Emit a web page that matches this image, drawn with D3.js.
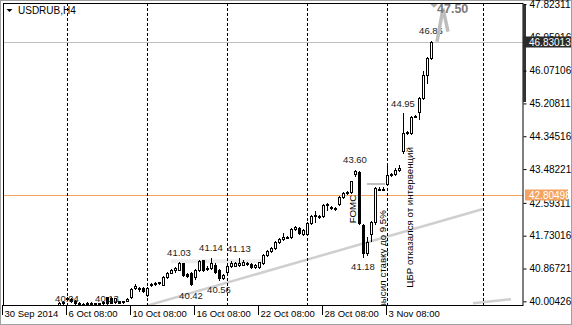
<!DOCTYPE html>
<html><head><meta charset="utf-8">
<script src="https://cdn.jsdelivr.net/npm/d3@7"></script>
<style>body{margin:0;background:#fff}svg{display:block}text{font-family:"Liberation Sans",Arial,sans-serif}</style>
</head><body><svg id="c" width="572" height="325"></svg>
<script>
// ---------------- data ----------------
const symbol = "USDRUB,H4";
const firstBar = -2; // bar index of the first value (0 = 6 Oct 08:00)
const open  = [39.90,39.95,40.08,40.06,40.00,39.96,39.94,39.93,39.96,39.95,39.93,39.95,40.11,40.09,39.99,40.00,39.98,40.02,40.12,40.36,40.32,40.35,40.18,40.43,40.46,40.48,40.44,40.65,40.76,40.82,40.84,41.00,40.72,40.75,40.64,40.83,41.08,40.85,40.88,40.97,40.82,40.62,40.78,40.93,40.94,40.96,40.97,40.99,40.99,40.91,40.90,41.01,41.22,41.33,41.40,41.56,41.64,41.68,41.70,41.90,41.93,41.78,41.78,42.06,42.24,42.24,42.25,42.54,42.49,42.45,42.56,42.75,42.85,42.88,43.35,43.40,42.02,41.27,41.78,42.09,42.97,42.95,43.09,43.33,43.35,43.46,43.95,44.42,44.42,44.86,44.98,45.35,45.96,46.40];
const high  = [39.98,40.02,40.12,40.09,40.03,39.99,39.97,39.98,39.99,39.97,39.97,40.01,40.13,40.11,40.10,40.02,40.01,40.08,40.36,40.46,40.38,40.37,40.38,40.48,40.50,40.52,40.66,40.77,40.86,40.90,41.03,41.02,40.76,40.78,40.85,41.10,41.10,40.92,41.14,41.00,40.85,40.72,40.94,41.06,41.03,41.13,41.08,41.05,41.01,40.98,41.05,41.24,41.35,41.42,41.58,41.66,41.80,41.72,41.92,41.98,41.96,41.90,42.08,42.27,42.38,42.27,42.56,42.60,42.52,42.48,42.77,42.87,42.90,43.18,43.47,43.42,42.05,41.70,42.11,43.00,43.00,43.00,43.55,43.38,43.52,43.58,44.95,44.47,44.88,44.90,45.37,46.05,46.42,46.86];
const low   = [39.85,39.92,40.04,39.98,39.93,39.90,39.88,39.91,39.93,39.90,39.90,39.93,39.94,39.95,39.97,39.95,39.95,40.00,40.10,40.33,40.28,40.26,40.14,40.40,40.44,40.46,40.42,40.63,40.74,40.78,40.82,40.66,40.65,40.42,40.60,40.80,40.80,40.82,40.86,40.76,40.56,40.60,40.74,40.90,40.92,40.93,40.95,40.96,40.88,40.88,40.88,40.99,41.20,41.31,41.38,41.54,41.62,41.66,41.68,41.88,41.78,41.76,41.74,42.04,42.08,42.20,42.23,42.40,42.43,42.40,42.54,42.73,42.83,42.86,43.30,42.04,41.18,41.22,41.60,42.05,42.92,42.93,43.05,43.30,43.33,43.44,43.90,44.40,44.40,44.84,44.80,45.33,45.75,46.38];
const close = [39.95,39.99,40.06,40.00,39.96,39.94,39.92,39.96,39.95,39.93,39.95,39.99,39.97,39.97,40.08,39.97,40.00,40.06,40.33,40.41,40.36,40.28,40.35,40.46,40.48,40.50,40.64,40.75,40.84,40.87,41.01,40.70,40.68,40.45,40.83,41.06,40.83,40.88,41.00,40.78,40.62,40.70,40.92,41.00,41.00,41.00,41.03,41.01,40.90,40.96,41.03,41.22,41.33,41.40,41.56,41.64,41.69,41.70,41.90,41.96,41.80,41.88,42.06,42.25,42.27,42.22,42.54,42.56,42.45,42.42,42.75,42.85,42.88,43.16,43.42,42.06,41.27,41.56,42.09,42.98,42.94,42.97,43.33,43.36,43.45,43.52,44.42,44.45,44.85,44.88,45.35,45.96,46.40,46.83];

const timeTickBars = [-16, 0, 16, 32, 48, 64, 80];
const timeLabels = ["30 Sep 2014", "6 Oct 08:00", "10 Oct 08:00", "16 Oct 08:00", "22 Oct 08:00", "28 Oct 08:00", "3 Nov 08:00"];
const separatorBars = [0, 20, 40, 60, 80, 104];
const priceTicks = [47.82311, 46.95916, 46.07106, 45.20811, 44.34516, 43.48221, 42.59311, 41.73016, 40.86721, 40.00426];
const bidPrice = 46.83013;
const levelPrice = 42.80498;

const zzBars  = [0, 10, 28, 31, 36, 38, 43, 72, 74, 84, 91];
const zzSide  = ["low","low","high","low","high","low","high","high","low","high","high"];
const zzText  = ["40.04","40.13","41.03","40.42","41.14","40.56","41.13","43.60","41.18","44.95","46.86"];

const trendBars = [20, 104], trendPrices = [39.89, 42.43];
const trend2Bars = [101.5, 111], trend2Prices = [39.95, 40.06];
const bandBars = [26, 49], bandPrice = 41.06;
const shortLineBars = [75, 79.5], shortLinePrice = 43.09;

const eventBars = [72.2, 79.7, 86.5];
const eventTexts = ["FOMC", "ЦБР повысил ставку до 9,5%", "ЦБР отказался от интервенций"];
const eventPrices = [42.43, 42.40, 42.21]; // price at text centre / end / centre
const eventAnchors = ["middle", "end", "middle"];

const targetText = "47.50";
const targetBar = 92.5, targetPrice = 47.70;

// ---------------- drawing ----------------
const W = 572, H = 325;
const L = 3, R = 523, T = 3, B = 305;
const svg = d3.select("#c");
const x = d3.scaleLinear().domain([-16, 114]).range([L, R]);
const y = d3.scaleLinear().domain([40.00426, 47.82311]).range([301.3, 4.0]);

const bars = open.map((o, k) => ({i: firstBar + k, o, h: high[k], l: low[k], c: close[k]}));

// outer frame
svg.append("rect").attr("x", 0.5).attr("y", 0.5).attr("width", W - 1).attr("height", H - 1)
  .attr("fill", "#fff").attr("stroke", "#a0a0a0");

svg.append("defs").append("clipPath").attr("id", "plot")
  .append("rect").attr("x", L).attr("y", T).attr("width", R - L).attr("height", B - T);
const g = svg.append("g").attr("clip-path", "url(#plot)");

// light band
g.append("line").attr("x1", x(bandBars[0])).attr("x2", x(bandBars[1]))
  .attr("y1", y(bandPrice)).attr("y2", y(bandPrice))
  .attr("stroke", "#ececec").attr("stroke-width", 4);

// trend lines
g.append("line").attr("x1", x(trendBars[0])).attr("y1", y(trendPrices[0]))
  .attr("x2", x(trendBars[1])).attr("y2", y(trendPrices[1]))
  .attr("stroke", "#cfcfcf").attr("stroke-width", 2.5);
g.append("line").attr("x1", x(trend2Bars[0])).attr("y1", y(trend2Prices[0]))
  .attr("x2", x(trend2Bars[1])).attr("y2", y(trend2Prices[1]))
  .attr("stroke", "#cfcfcf").attr("stroke-width", 2.5);
g.append("line").attr("x1", x(shortLineBars[0])).attr("x2", x(shortLineBars[1]))
  .attr("y1", y(shortLinePrice)).attr("y2", y(shortLinePrice))
  .attr("stroke", "#bdbdbd").attr("stroke-width", 2);

// horizontal price lines
g.append("line").attr("x1", L).attr("x2", R).attr("y1", Math.round(y(bidPrice)) + 0.5).attr("y2", Math.round(y(bidPrice)) + 0.5)
  .attr("stroke", "#c0c0c0");
g.append("line").attr("x1", L).attr("x2", R).attr("y1", Math.round(y(levelPrice)) + 0.5).attr("y2", Math.round(y(levelPrice)) + 0.5)
  .attr("stroke", "#f4a460");

// separators
g.selectAll("line.sep").data(separatorBars).join("line").attr("class", "sep")
  .attr("x1", d => Math.round(x(d)) + 0.5).attr("x2", d => Math.round(x(d)) + 0.5)
  .attr("y1", T).attr("y2", B).attr("stroke", "#000").attr("stroke-dasharray", "3,2");

// candles
const cg = g.selectAll("g.bar").data(bars).join("g").attr("class", "bar");
cg.append("line")
  .attr("x1", d => Math.round(x(d.i)) + 0.5).attr("x2", d => Math.round(x(d.i)) + 0.5)
  .attr("y1", d => Math.round(y(d.h))).attr("y2", d => Math.round(y(d.l)) + 1)
  .attr("stroke", "#000");
cg.append("rect")
  .attr("x", d => Math.round(x(d.i)) - 0.5)
  .attr("y", d => Math.round(y(Math.max(d.o, d.c))) + 0.5)
  .attr("width", 2)
  .attr("height", d => Math.max(1, Math.round(y(Math.min(d.o, d.c))) - Math.round(y(Math.max(d.o, d.c)))))
  .attr("fill", d => d.c >= d.o ? "#fff" : "#000")
  .attr("stroke", "#000");

// event texts (vertical)
g.selectAll("text.ev").data(eventTexts).join("text").attr("class", "ev")
  .attr("transform", (d, k) => `translate(${x(eventBars[k])},${y(eventPrices[k])}) rotate(-90)`)
  .attr("text-anchor", (d, k) => eventAnchors[k])
  .attr("font-size", "9.7px").attr("fill", "#000").text(d => d);

// zigzag labels
g.selectAll("text.zz").data(zzText).join("text").attr("class", "zz")
  .attr("x", (d, k) => x(zzBars[k]))
  .attr("y", (d, k) => {
    const b = bars[zzBars[k] - firstBar];
    if (zzSide[k] === "high") return y(b.h) - 10;
    return Math.min(y(b.l) + 10, 299);
  })
  .attr("dy", "0.35em").attr("text-anchor", "middle")
  .attr("font-size", "9.5px").attr("fill", "#1a1a1a").text(d => d);

// target arrow
const tx = x(targetBar), ty = y(targetPrice);
g.append("path").attr("d", `M${tx - 7},${ty - 5} l8,0 l-4,4 z`).attr("fill", "#aaa");
g.append("path").attr("d", `M${tx},${y(bidPrice)} L${tx + 6},${ty} L${tx + 11},${ty + 23}`)
  .attr("fill", "none").attr("stroke", "#bdbdbd").attr("stroke-width", 3.5);
g.append("text").attr("x", tx).attr("y", ty).attr("dy", "0.35em")
  .attr("font-size", "12.5px").attr("font-weight", "bold").attr("fill", "#7a7a7a").text(targetText);

// title
svg.append("path").attr("d", "M6.5,9 L12.5,9 L9.5,12 Z").attr("fill", "#000");
svg.append("text").attr("x", 18).attr("y", 14).attr("font-size", "10px").attr("fill", "#000").text(symbol);

// plot border
svg.append("rect").attr("x", L + 0.5).attr("y", T + 0.5).attr("width", R - L - 0.5).attr("height", B - T)
  .attr("fill", "none").attr("stroke", "#000");
svg.append("rect").attr("x", R).attr("y", 5).attr("width", 3).attr("height", 97).attr("fill", "#333");

// right axis
const ay = svg.append("g").attr("transform", `translate(${R + 0.5},0)`)
  .call(d3.axisRight(y).tickValues(priceTicks).tickFormat(d3.format(".5f")).tickSize(3).tickPadding(3));
ay.select(".domain").remove();
ay.selectAll("text").attr("font-size", "10px").attr("fill", "#000").style("font-family", '"Liberation Sans",Arial,sans-serif');

// price boxes
function priceBox(p, bg, x0, w, h) {
  const yy = Math.round(y(p));
  svg.append("rect").attr("x", x0).attr("y", yy - h / 2).attr("width", w).attr("height", h).attr("fill", bg);
  svg.append("text").attr("x", 529).attr("y", yy).attr("dy", "0.35em").attr("font-size", "10px").attr("fill", "#fff")
    .text(d3.format(".5f")(p));
}
priceBox(bidPrice, "#2a2a2a", R, 48, 11);
priceBox(levelPrice, "#f4a460", 525, 43, 11);

// bottom axis
const ax = svg.append("g").attr("transform", `translate(0,${B})`)
  .call(d3.axisBottom(x).tickValues(timeTickBars).tickFormat((d, k) => timeLabels[k]).tickSize(10));
ax.select(".domain").remove();
ax.selectAll(".tick line").attr("transform", "translate(-1,0)");
ax.selectAll("text").attr("text-anchor", "start").attr("x", 1).attr("y", 12).attr("dy", 0)
  .attr("font-size", "9.5px").attr("fill", "#000").style("font-family", '"Liberation Sans",Arial,sans-serif');
</script></body></html>
